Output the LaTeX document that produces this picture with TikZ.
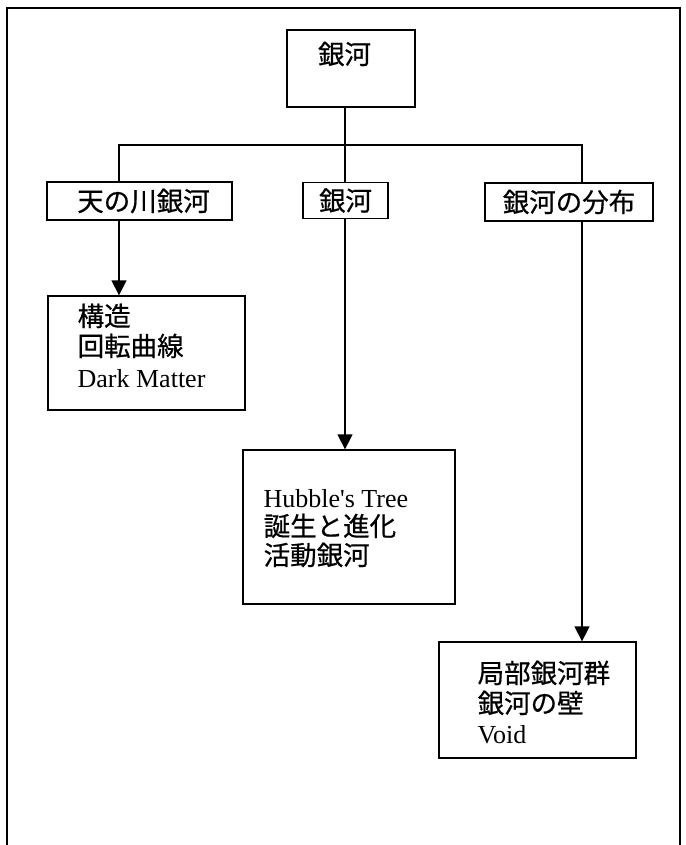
\documentclass[tikz,border=0pt]{standalone}
\usepackage{fontspec}
\setmainfont{Liberation Serif}
\newfontfamily\cjk[FakeBold=0.6]{Noto Sans CJK JP}
\usetikzlibrary{arrows.meta}
\begin{document}
\begin{tikzpicture}[x=1pt,y=-1pt,
  line width=1.3pt,
  boxstyle/.style={draw, line width=1.3pt, rectangle, inner sep=0pt},
  lvl/.style={boxstyle, font=\fontsize{26.5}{30}\selectfont\cjk},
  jtxt/.style={inner sep=0pt, anchor=base west, font=\fontsize{26.5}{30}\selectfont\cjk},
  ltxt/.style={inner sep=0pt, anchor=base west, font=\fontsize{26}{30}\selectfont},
  arr/.style={-{Triangle[width=15pt,length=15pt]}, line width=1.3pt},
  conn/.style={line width=1.3pt}]
\useasboundingbox (0,0) rectangle (685,845);
\fill[white] (0,0) rectangle (685,845);
% outer frame (open at the bottom)
\draw[conn] (7,845) -- (7,8) -- (680,8) -- (680,845);

% top box
\node[boxstyle, minimum width=128pt, minimum height=77pt] (top) at (351,68.5) {};
\node[inner sep=0pt, font=\fontsize{26.5}{30}\selectfont\cjk] (topt) at (344.5,54) {銀河};

% second level
\node[lvl, minimum width=185pt, minimum height=38pt] (l1) at (139.5,201) {\hspace*{8pt}天の川銀河};
\node[lvl, minimum width=85pt, minimum height=36pt] (l2) at (345.5,200.5) {銀河};
\node[lvl, minimum width=168pt, minimum height=38pt] (l3) at (569,202) {銀河の分布};

% lower boxes
\node[boxstyle, minimum width=197pt, minimum height=114pt] (b1) at (146.5,353) {};
\node[boxstyle, minimum width=212pt, minimum height=154pt] (b2) at (349,527) {};
\node[boxstyle, minimum width=197pt, minimum height=116pt] (b3) at (537.5,700) {};

\node[jtxt] (b1a) at (77,326) {構造};
\node[jtxt] (b1b) at (77,356) {回転曲線};
\node[ltxt] (b1c) at (77,387) {Dark Matter};

\node[ltxt] (b2a) at (263,507) {Hubble\textquotesingle s Tree};
\node[jtxt] (b2b) at (263,536) {誕生と進化};
\node[jtxt] (b2c) at (263,565) {活動銀河};

\node[jtxt] (b3a) at (477,683) {局部銀河群};
\node[jtxt] (b3b) at (477,713) {銀河の壁};
\node[ltxt] (b3c) at (477,743) {Void};

% connectors
\coordinate (j0) at (345,145);
\coordinate (jl) at (119,145);
\coordinate (jr) at (582,145);
\draw[conn] (j0 |- top.south) -- (j0);
\draw[conn] (jl |- l1.north) -- (jl) -- (jr) -- (jr |- l3.north);
\draw[conn] (j0) -- (j0 |- l2.north);

% arrows
\draw[arr] (jl |- l1.south) -- (jl |- b1.north);
\draw[arr] (j0 |- l2.south) -- (j0 |- b2.north);
\draw[arr] (jr |- l3.south) -- (jr |- b3.north);
\end{tikzpicture}
\end{document}
